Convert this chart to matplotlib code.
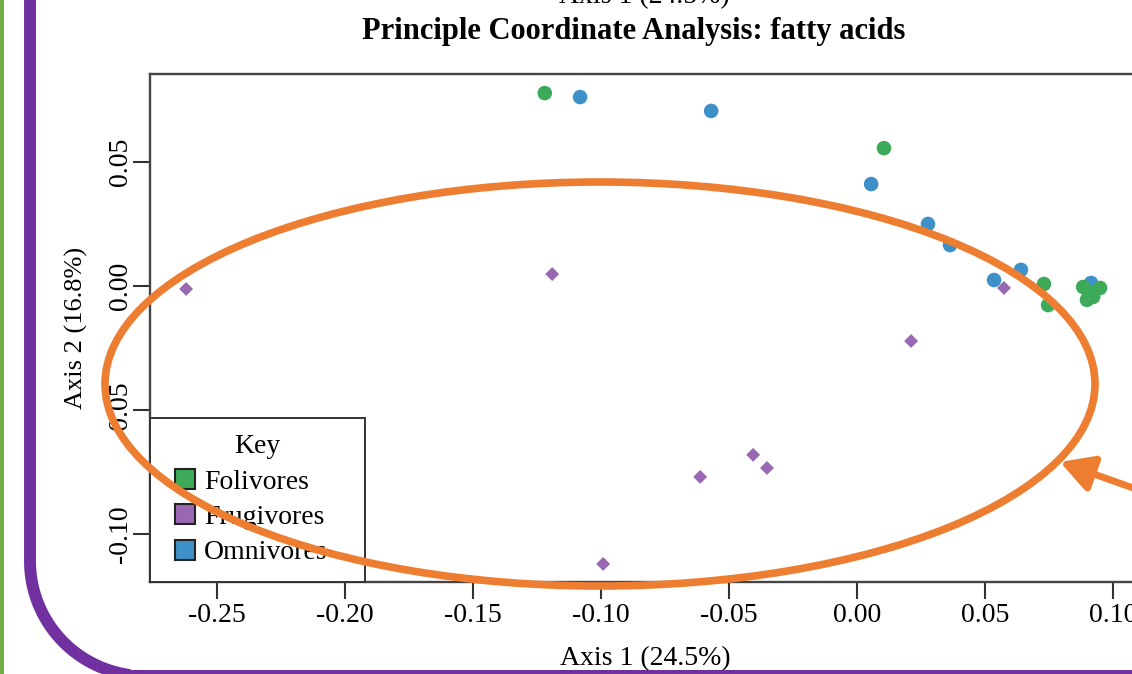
import numpy as np
import matplotlib.pyplot as plt
from matplotlib.lines import Line2D
from matplotlib.patches import Ellipse, Rectangle

plt.rc('font', family='Liberation Serif')
plt.rcParams['axes.linewidth'] = 1.7

# PCoA scores
fol_x = [-0.1220, 0.0105, 0.0730, 0.0746, 0.0883, 0.0898, 0.0922, 0.0949, 0.0905]
fol_y = [0.0778, 0.0556, 0.0008, -0.0077, -0.0004, -0.0056, -0.0044, -0.0008, -0.0025]
fru_x = [-0.2621, -0.1191, 0.0574, 0.0211, -0.0406, -0.0352, -0.0613, -0.0992]
fru_y = [-0.0012, 0.0048, -0.0008, -0.0222, -0.0681, -0.0734, -0.0770, -0.1121]
omn_x = [-0.1082, -0.0570, 0.0055, 0.0277, 0.0363, 0.0535, 0.0640, 0.0914]
omn_y = [0.0762, 0.0706, 0.0411, 0.0250, 0.0165, 0.0024, 0.0065, 0.0012]

groups = ['Folivores', 'Frugivores', 'Omnivores']
colors = ['#3DAA5A', '#9A68B2', '#3E90C9']
xticks = [-0.25, -0.20, -0.15, -0.10, -0.05, 0.00, 0.05, 0.10]
yticks = [-0.10, -0.05, 0.00, 0.05]

W, H = 1132, 674
fig = plt.figure(figsize=(W / 100, H / 100), dpi=100)

# plot panel (runs off the right edge like the screenshot)
ax = fig.add_axes([150 / W, 1 - 582 / H, (1141 - 150) / W, (582 - 74) / H])
ax.scatter(omn_x, omn_y, s=110, color=colors[2], edgecolors='none', zorder=3)
ax.scatter(fru_x, fru_y, s=50, marker='D', color=colors[1], edgecolors='none', zorder=3)
ax.scatter(fol_x, fol_y, s=110, color=colors[0], edgecolors='none', zorder=3)
ax.set_xlim(-0.2762, 0.1109)
ax.set_ylim(-0.1194, 0.0855)
ax.set_xticks(xticks)
ax.set_xticklabels(['%.2f' % v for v in xticks])
ax.set_yticks(yticks)
ax.set_yticklabels(['%.2f' % v for v in yticks], rotation=90, va='center')
ax.tick_params(length=12, width=1.5, color='#333333', labelsize=20)
ax.tick_params(axis='x', pad=2.9)
ax.tick_params(axis='y', pad=0.5)
for s in ax.spines.values():
    s.set_color('#444444')
ax.set_xlabel('Axis 1 (24.5%)', fontsize=20, va='center')
ax.xaxis.set_label_coords(0.5, (582 - 659) / 508)
ax.set_ylabel('Axis 2 (16.8%)', fontsize=19, va='center')
ax.yaxis.set_label_coords((76 - 150) / 991, 0.5)

handles = [Line2D([], [], ls='none', marker='s', markersize=14.5, markerfacecolor=c,
                  markeredgecolor='#222222', markeredgewidth=1.5) for c in colors]
leg = ax.legend(handles, groups, title='Key', loc='lower left',
                bbox_to_anchor=(0, 0, (365 - 150) / 991, 0.5), mode='expand',
                borderaxespad=0, fancybox=False, edgecolor='#333333', framealpha=1,
                fontsize=20, title_fontsize=20, handlelength=1.3, handleheight=0.72,
                handletextpad=0.05, labelspacing=0.35, borderpad=0.6)
leg.get_frame().set_linewidth(1.4)

fig.text(634 / W, 1 - 31 / H, 'Principle Coordinate Analysis: fatty acids',
         fontsize=22, fontweight='bold', ha='center', va='center')
# bottom of the previous panel's x label, cut off at the top
fig.text(644 / W, 1 - 3 / H, 'Axis 1 (24.5%)', fontsize=20, ha='center', va='baseline')

# slide decorations on top
ov = fig.add_axes([0, 0, 1, 1], zorder=10)
ov.set_xlim(0, W)
ov.set_ylim(H, 0)
ov.axis('off')
ov.patch.set_alpha(0)
ov.add_patch(Rectangle((0, 0), 4, H, color='#70AD47', lw=0))
R = 115
t = np.linspace(np.pi, np.pi / 2, 60)
fx = np.concatenate([[30, 30], 30 + R + R * np.cos(t)])
fy = np.concatenate([[-10, 676 - R], 676 - R + R * np.sin(t)])
ov.plot(fx, fy, color='#7030A0', lw=8.6, solid_capstyle='butt', solid_joinstyle='round',
        clip_on=False)
ov.add_patch(Rectangle((110, 669.5), W, 10, color='#7030A0', lw=0, clip_on=False))
ov.add_patch(Ellipse((600, 384), 990, 404, fill=False, ec='#ED7D31', lw=5.5))
ov.annotate('', xy=(1060, 462), xytext=(1150, 494),
            arrowprops=dict(arrowstyle='-|>,head_length=0.9,head_width=0.5', color='#ED7D31',
                            lw=5, mutation_scale=22, shrinkA=0, shrinkB=0))

fig.savefig('out.png', dpi=100)
